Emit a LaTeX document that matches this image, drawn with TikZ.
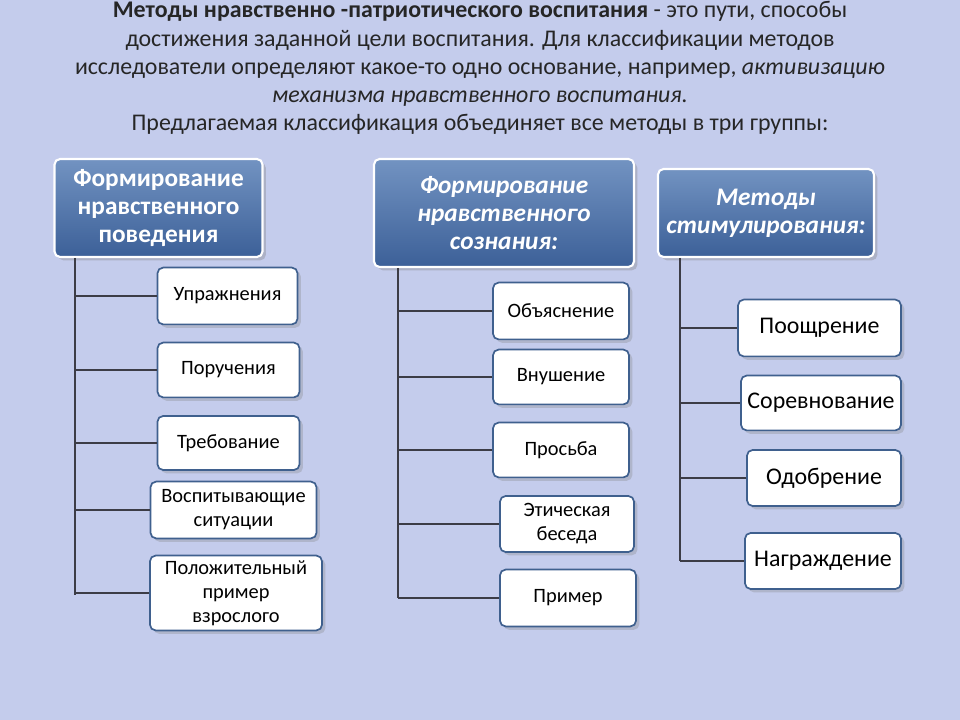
\documentclass[tikz,border=0pt]{standalone}
\usepackage{fontspec}
\setmainfont{Carlito}
\usetikzlibrary{shadows}
\definecolor{bgblue}{RGB}{196,204,236}
\definecolor{headblue}{RGB}{79,120,178}
\definecolor{headdark}{RGB}{60,96,152}
\definecolor{linegray}{RGB}{60,60,70}
\tikzset{
  headbox/.style={draw=white, line width=1.5pt, rounded corners=4pt,
    top color=headblue!80!white, bottom color=headdark, text=white,
    font=\fontsize{18}{20}\selectfont\bfseries, align=center,
    drop shadow={opacity=0.35}, inner sep=2pt},
  itembox/.style={draw=headblue!80!black, line width=1.2pt, rounded corners=4pt,
    fill=white, font=\fontsize{14.5}{17}\selectfont, align=center,
    drop shadow={opacity=0.3}, inner sep=2pt},
  bigitem/.style={itembox, font=\fontsize{17}{19}\selectfont},
  branch/.style={draw=linegray, line width=1pt}
}
\begin{document}
\begin{tikzpicture}[x=0.025cm, y=-0.025cm]
\fill[bgblue] (0,0) rectangle (960,720);
\useasboundingbox (0,0) rectangle (960,720);
% title
\node (title) at (480,68) [align=center, font=\fontsize{17}{20}\selectfont, text=black!85] {%
  \textbf{Методы нравственно -патриотического воспитания} - это пути, способы\\
  достижения заданной цели воспитания. Для классификации методов\\
  исследователи определяют какое-то одно основание, например, \textit{активизацию}\\
  \textit{механизма нравственного воспитания.}\\
  Предлагаемая классификация объединяет все методы в три группы:};
% headers
\node (h1) at (158.5,208) [headbox, minimum width=5.2cm, minimum height=2.45cm] {Формирование\\нравственного\\поведения};
\node (h2) at (504,213) [headbox, minimum width=6.5cm, minimum height=2.7cm, font=\fontsize{18}{20}\selectfont\bfseries\itshape] {Формирование\\нравственного\\сознания:};
\node (h3) at (766,213) [headbox, minimum width=5.4cm, minimum height=2.2cm, font=\fontsize{18}{20}\selectfont\bfseries\itshape] {Методы\\стимулирования:};
% first column
\coordinate (t1) at (75,258);
\coordinate (e1) at (75,595);
\draw[branch] (t1) -- (e1);
\node (a1) at (227.5,296) [itembox, minimum width=3.5cm, minimum height=1.42cm] {Упражнения};
\node (a2) at (228.5,370) [itembox, minimum width=3.55cm, minimum height=1.37cm] {Поручения};
\node (a3) at (228.5,443) [itembox, minimum width=3.55cm, minimum height=1.35cm] {Требование};
\node (a4) at (233.5,510) [itembox, minimum width=4.15cm, minimum height=1.42cm] {Воспитывающие\\ситуации};
\node (a5) at (236,593) [itembox, minimum width=4.3cm, minimum height=1.87cm] {Положительный\\пример\\взрослого};
\foreach \n in {a1,a2,a3,a4,a5}
  \draw[branch] (\n.west) -- (t1 |- \n.west);
% second column
\coordinate (t2) at (398,268);
\coordinate (e2) at (398,598);
\draw[branch] (t2) -- (e2);
\node (b1) at (561,311) [itembox, minimum width=3.4cm, minimum height=1.42cm] {Объяснение};
\node (b2) at (561,377) [itembox, minimum width=3.4cm, minimum height=1.37cm] {Внушение};
\node (b3) at (561,450) [itembox, minimum width=3.4cm, minimum height=1.37cm] {Просьба};
\node (b4) at (567,524) [itembox, minimum width=3.35cm, minimum height=1.4cm] {Этическая\\беседа};
\node (b5) at (568,598) [itembox, minimum width=3.4cm, minimum height=1.42cm] {Пример};
\foreach \n in {b1,b2,b3,b4,b5}
  \draw[branch] (\n.west) -- (t2 |- \n.west);
% third column
\coordinate (t3) at (680,258);
\coordinate (e3) at (680,561);
\draw[branch] (t3) -- (e3);
\node (c1) at (819.5,328) [bigitem, minimum width=4.07cm, minimum height=1.42cm] {Поощрение};
\node (c2) at (821,403) [bigitem, minimum width=4cm, minimum height=1.37cm] {Соревнование};
\node (c3) at (824,478) [bigitem, minimum width=3.85cm, minimum height=1.4cm] {Одобрение};
\node (c4) at (823,561) [bigitem, minimum width=3.9cm, minimum height=1.4cm] {Награждение};
\foreach \n in {c1,c2,c3,c4}
  \draw[branch] (\n.west) -- (t3 |- \n.west);
\end{tikzpicture}
\end{document}
